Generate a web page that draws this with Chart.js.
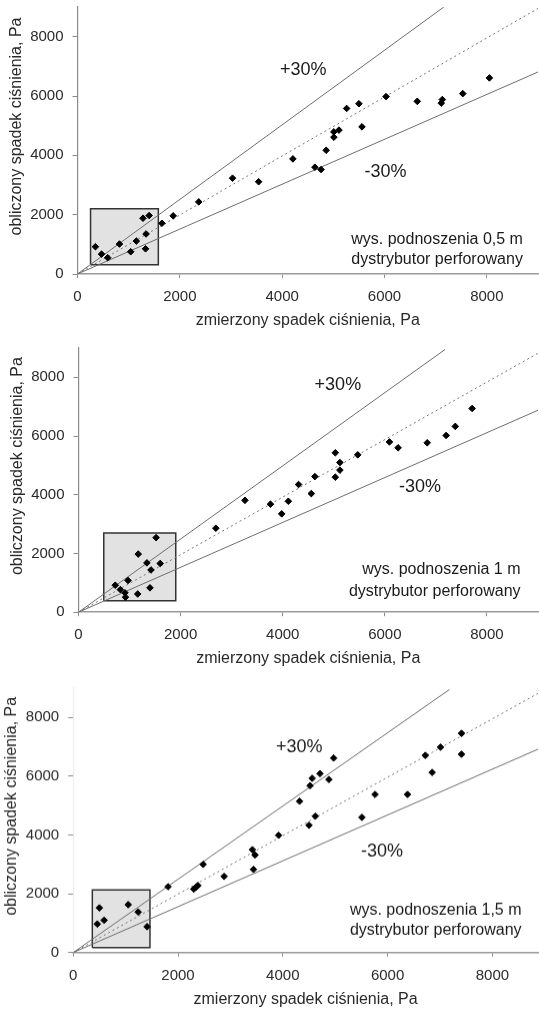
<!DOCTYPE html>
<html>
<head>
<meta charset="utf-8">
<script src="https://cdn.jsdelivr.net/npm/chart.js@4.4.0/dist/chart.umd.min.js"></script>
<style>
    html, body { margin: 0; padding: 0; background: #fff; }
    body { width: 539px; height: 1009px; position: relative; overflow: hidden; }
    .panel { position: absolute; left: 0; width: 543px; }
</style>
</head>
<body>
<div class="panel"><canvas id="chart-05"></canvas></div>
<div class="panel"><canvas id="chart-10"></canvas></div>
<div class="panel"><canvas id="chart-15"></canvas></div>
<script>
// wys. podnoszenia 0,5 m
const measured05 = [350, 470, 590, 820, 1040, 1150, 1280, 1330, 1340, 1400, 1650, 1870, 2370, 3030, 3540, 4210, 4640, 4760, 4860, 5010, 5010, 5110, 5260, 5500, 5560, 6030, 6640, 7110, 7130, 7530, 8050];
const computed05 = [920, 670, 550, 1010, 750, 1110, 1880, 850, 1350, 1970, 1710, 1960, 2430, 3230, 3110, 3880, 3600, 3520, 4170, 4610, 4790, 4850, 5580, 5740, 4960, 5980, 5820, 5760, 5880, 6080, 6610];

// wys. podnoszenia 1 m
const measured10 = [720, 820, 910, 920, 970, 1160, 1170, 1340, 1420, 1400, 1520, 1600, 2690, 3260, 3760, 3980, 4110, 4310, 4560, 4630, 5030, 5030, 5120, 5120, 5470, 6090, 6260, 6830, 7200, 7380, 7710];
const computed10 = [920, 770, 660, 510, 1080, 620, 1980, 1680, 1440, 830, 2540, 1660, 2860, 3810, 3680, 3350, 3780, 4350, 4040, 4620, 4600, 5430, 5100, 4840, 5360, 5800, 5600, 5770, 6020, 6330, 6940];

// wys. podnoszenia 1,5 m
const measured15 = [460, 500, 590, 1050, 1240, 1410, 1810, 2300, 2340, 2380, 2480, 2880, 3420, 3470, 3440, 3920, 4320, 4500, 4520, 4560, 4620, 4710, 4880, 4970, 5510, 5760, 6380, 6720, 6850, 7010, 7410, 7410];
const computed15 = [970, 1520, 1100, 1630, 1380, 880, 2240, 2160, 2220, 2280, 3000, 2590, 3500, 3320, 2830, 3990, 5150, 4330, 5680, 5930, 4640, 6090, 5890, 6620, 4600, 5380, 5380, 6710, 6130, 6990, 7460, 6750];

// reference lines: +30%, -30% and measured = computed, as read where they leave the frame
const upperX05 = [0, 7160], upperY05 = [0, 9000];
const lowerX05 = [0, 9000], lowerY05 = [0, 6810];
const idealX05 = [0, 9000], idealY05 = [0, 8950];
const upperX10 = [0, 7180], upperY10 = [0, 8950];
const lowerX10 = [0, 9000], lowerY10 = [0, 6880];
const idealX10 = [0, 9000], idealY10 = [0, 8820];
const upperX15 = [0, 7180], upperY15 = [0, 8950];
const lowerX15 = [0, 8870], lowerY15 = [0, 6920];
const idealX15 = [0, 8870], idealY15 = [0, 8820];

// shaded box (low range)
const boxX05 = [255, 1580, 1580, 255, 255], boxY05 = [315, 315, 2200, 2200, 315];
const boxX10 = [495, 1905, 1905, 495, 495], boxY10 = [390, 390, 2700, 2700, 390];
const boxX15 = [365, 1465, 1465, 365, 365], boxY15 = [170, 170, 2135, 2135, 170];

const tickValues = [0, 2000, 4000, 6000, 8000];
const xTitle = 'zmierzony spadek ciśnienia, Pa';
const yTitle = 'obliczony spadek ciśnienia, Pa';
const distributor = 'dystrybutor perforowany';

const PAD_TOP = 18;
const X_AXIS_H = 58;
const FONT = '"Liberation Sans", Arial, sans-serif';

const pts = (xs, ys) => xs.map((x, i) => ({ x: x, y: ys[i] }));

const panels = [
    {
        canvas: 'chart-05', plotTop: 7, plotBottom: 274, plotLeft: 77.5, xMax: 9000, yAxisColor: '#8c8c8c', yTitleX: 17,
        measured: measured05, computed: computed05,
        upper: pts(upperX05, upperY05), lower: pts(lowerX05, lowerY05), ideal: pts(idealX05, idealY05),
        box: pts(boxX05, boxY05), lift: 'wys. podnoszenia 0,5 m',
        plusAt: [4410, 6880], minusAt: [6020, 3450], noteAt: [8705, 1146, 472]
    },
    {
        canvas: 'chart-10', plotTop: 347.5, plotBottom: 611.7, plotLeft: 78.5, xMax: 9000, yAxisColor: '#8c8c8c', yTitleX: 18,
        measured: measured10, computed: computed10,
        upper: pts(upperX10, upperY10), lower: pts(lowerX10, lowerY10), ideal: pts(idealX10, idealY10),
        box: pts(boxX10, boxY10), lift: 'wys. podnoszenia 1 m',
        plusAt: [5080, 7740], minusAt: [6690, 4270], noteAt: [8658, 1441, 704]
    },
    {
        canvas: 'chart-15', plotTop: 688, plotBottom: 951.7, plotLeft: 73.2, xMax: 8870, yAxisColor: '#eeeeee', yTitleX: 12,
        measured: measured15, computed: computed15,
        upper: pts(upperX15, upperY15), lower: pts(lowerX15, lowerY15), ideal: pts(idealX15, idealY15),
        box: pts(boxX15, boxY15), lift: 'wys. podnoszenia 1,5 m',
        plusAt: [4314, 6974], minusAt: [5892, 3436], noteAt: [8556, 1445, 739]
    }
];

// texts inside the plot and the rotated y title
const notesPlugin = {
    id: 'notes',
    afterDraw(chart) {
        const p = chart.options.plugins.notes;
        const { ctx, chartArea } = chart;
        const x = chart.scales.x, y = chart.scales.y;
        ctx.save();
        ctx.fillStyle = '#1a1a1a';
        ctx.textBaseline = 'middle';
        ctx.textAlign = 'center';
        ctx.font = '18px ' + FONT;
        ctx.fillText('+30%', x.getPixelForValue(p.plusAt[0]), y.getPixelForValue(p.plusAt[1]));
        ctx.fillText('-30%', x.getPixelForValue(p.minusAt[0]), y.getPixelForValue(p.minusAt[1]));
        ctx.textAlign = 'right';
        ctx.font = '16px ' + FONT;
        ctx.fillText(p.lift, x.getPixelForValue(p.noteAt[0]), y.getPixelForValue(p.noteAt[1]));
        ctx.fillText(distributor, x.getPixelForValue(p.noteAt[0]), y.getPixelForValue(p.noteAt[2]));

        ctx.translate(p.yTitleX, (chartArea.top + chartArea.bottom) / 2 - 14);
        ctx.rotate(-Math.PI / 2);
        ctx.textAlign = 'center';
        ctx.fillStyle = '#2a2a2a';
        ctx.fillText(yTitle, 0, 0);
        ctx.restore();
    }
};

const keepTicks = (scale) => {
    scale.ticks = tickValues.filter(v => v <= scale.max).map(v => ({ value: v }));
};
const plainLabel = (v) => String(v);

panels.forEach(p => {
    const canvas = document.getElementById(p.canvas);
    const wrap = canvas.parentNode;
    wrap.style.top = (p.plotTop - PAD_TOP) + 'px';
    wrap.style.height = (p.plotBottom - p.plotTop + PAD_TOP + X_AXIS_H) + 'px';

    new Chart(canvas, {
        type: 'scatter',
        data: {
            datasets: [
                {
                    label: 'pomiary',
                    data: pts(p.measured, p.computed),
                    pointStyle: 'rectRot',
                    pointRadius: 3.3,
                    backgroundColor: '#000',
                    borderColor: '#000',
                    borderWidth: 1
                },
                { label: '+30%', data: p.upper, showLine: true, borderColor: '#6e6e6e', borderWidth: 1, pointRadius: 0 },
                { label: '-30%', data: p.lower, showLine: true, borderColor: '#6e6e6e', borderWidth: 1, pointRadius: 0 },
                { label: 'y=x', data: p.ideal, showLine: true, borderColor: '#777', borderWidth: 1, borderDash: [2, 3], pointRadius: 0 },
                {
                    label: 'zakres',
                    data: p.box,
                    showLine: true,
                    fill: 'shape',
                    backgroundColor: '#e2e2e2',
                    borderColor: '#333',
                    borderWidth: 1.5,
                    pointRadius: 0
                }
            ]
        },
        options: {
            responsive: true,
            maintainAspectRatio: false,
            animation: false,
            events: [],
            layout: { padding: { top: PAD_TOP, left: 0, right: 0, bottom: 0 } },
            plugins: {
                legend: { display: false },
                tooltip: { enabled: false },
                notes: p
            },
            scales: {
                x: {
                    type: 'linear',
                    min: 0,
                    max: p.xMax,
                    afterBuildTicks: keepTicks,
                    afterFit: (s) => { s.height = X_AXIS_H; },
                    border: { display: true, color: '#9a9a9a', width: 1.5 },
                    grid: { drawOnChartArea: false, drawTicks: true, tickLength: 4, color: '#8c8c8c' },
                    ticks: { color: '#2a2a2a', padding: 10, maxRotation: 0, callback: plainLabel, font: { family: FONT, size: 15 } },
                    title: {
                        display: true,
                        text: xTitle,
                        color: '#2a2a2a',
                        padding: { top: 0, bottom: 2 },
                        font: { family: FONT, size: 16 }
                    }
                },
                y: {
                    type: 'linear',
                    min: 0,
                    max: 9000,
                    afterBuildTicks: keepTicks,
                    afterFit: (s) => { s.width = p.plotLeft; },
                    border: { display: true, color: p.yAxisColor, width: 1.2 },
                    grid: { drawOnChartArea: false, drawTicks: true, tickLength: 5, color: '#8c8c8c' },
                    ticks: { color: '#2a2a2a', padding: 9, callback: plainLabel, font: { family: FONT, size: 15 } }
                }
            }
        },
        plugins: [notesPlugin]
    });
});
</script>
</body>
</html>
